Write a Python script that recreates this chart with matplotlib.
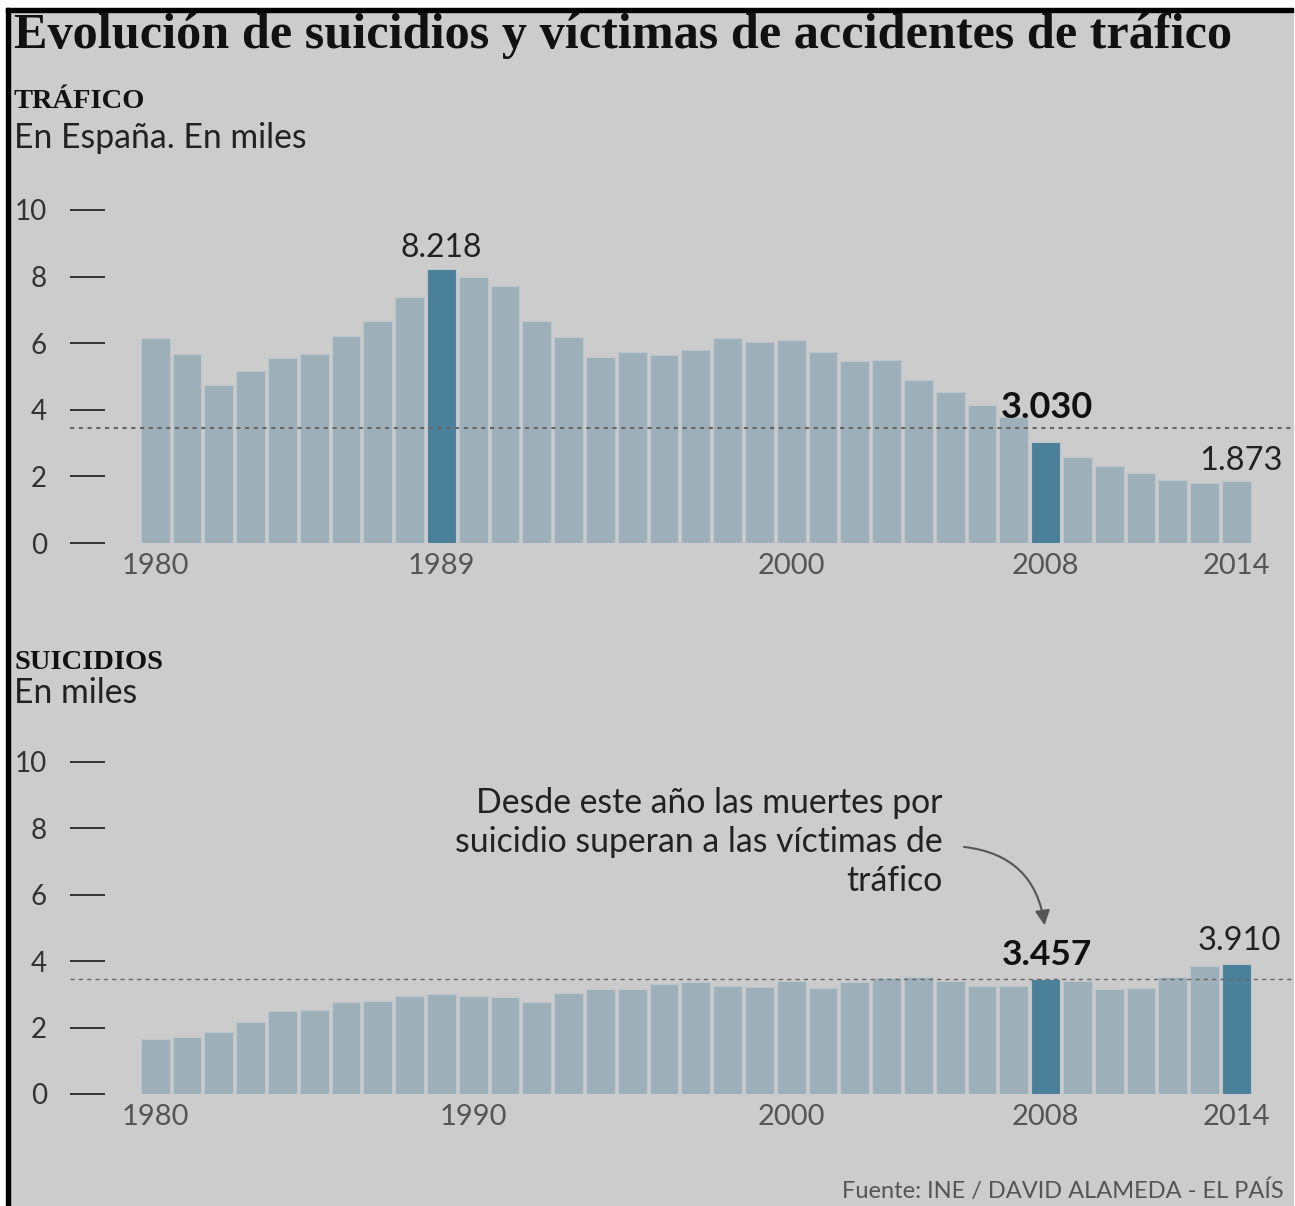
import matplotlib.pyplot as plt
from matplotlib.patches import Rectangle, FancyArrowPatch

# --- data (miles de personas)
years = list(range(1980, 2015))
trafico = [6.15, 5.68, 4.74, 5.17, 5.56, 5.67, 6.21, 6.67, 7.39, 8.218,
           7.98, 7.72, 6.67, 6.18, 5.59, 5.75, 5.64, 5.80, 6.15, 6.03,
           6.10, 5.73, 5.47, 5.50, 4.89, 4.53, 4.14, 3.79, 3.030, 2.58,
           2.32, 2.10, 1.90, 1.80, 1.873]
suicidios = [1.66, 1.73, 1.86, 2.18, 2.50, 2.52, 2.76, 2.81, 2.96, 3.00,
             2.94, 2.91, 2.78, 3.04, 3.17, 3.16, 3.32, 3.37, 3.26, 3.22,
             3.41, 3.19, 3.36, 3.49, 3.52, 3.39, 3.25, 3.26, 3.457, 3.41,
             3.17, 3.18, 3.53, 3.87, 3.910]
trafico_dest = [1989, 2008]
suicidios_dest = [2008, 2014]
trafico_xticks = [1980, 1989, 2000, 2008, 2014]
suicidios_xticks = [1980, 1990, 2000, 2008, 2014]
y_ticks = [0, 2, 4, 6, 8, 10]
linea_ref = 3.457

W, H = 1295, 1206
BG = '#cccccc'
CLARO = '#9db0ba'
OSCURO = '#4a8099'
SANS = ['Lato', 'DejaVu Sans']
SERIF = ['Liberation Serif', 'DejaVu Serif']

fig = plt.figure(figsize=(W / 100, H / 100), dpi=100)
fig.patch.set_facecolor('white')

def fx(px):
    return px / W

def fy(py):
    return 1 - py / H

# fondo gris y marco negro
fig.patches.append(Rectangle((fx(10), 0), fx(1293) - fx(10), fy(12),
                             transform=fig.transFigure, color=BG, zorder=-10))
fig.patches.append(Rectangle((fx(6), 0), fx(4), fy(8),
                             transform=fig.transFigure, color='black', zorder=-5))
fig.patches.append(Rectangle((fx(6), fy(12)), fx(1293) - fx(6), 4 / H,
                             transform=fig.transFigure, color='black', zorder=-5))

# textos de cabecera
fig.text(fx(14), fy(48), 'Evolución de suicidios y víctimas de accidentes de tráfico',
         family=SERIF, weight='bold', fontsize=36.2, va='baseline', color='#111')
fig.text(fx(14), fy(108), 'TRÁFICO', family=SERIF, weight='bold', fontsize=20.5,
         va='baseline', color='#111')
fig.text(fx(14), fy(148), 'En España. En miles', family=SANS, fontsize=24.3,
         va='baseline', color='#222')
fig.text(fx(14), fy(669), 'SUICIDIOS', family=SERIF, weight='bold', fontsize=20.5,
         va='baseline', color='#111')
fig.text(fx(14), fy(703), 'En miles', family=SANS, fontsize=24.3,
         va='baseline', color='#222')
fig.text(fx(842), fy(1198), 'Fuente: INE / DAVID ALAMEDA - EL PAÍS', family=SANS,
         fontsize=17, va='baseline', color='#555')

px_year = 31.8
x0_data = 1980 - (155.2 - 70) / px_year
x1_data = 1980 + (W - 155.2) / px_year


def panel(y0_px, px_unit, valores, destacados, xticks):
    top_px = y0_px - 10.5 * px_unit
    ax = fig.add_axes([fx(70), fy(y0_px), fx(W) - fx(70), (y0_px - top_px) / H])
    ax.set_facecolor('none')
    colores = [OSCURO if y in destacados else CLARO for y in years]
    ax.bar(years, valores, width=0.9, color=colores, edgecolor='#bcc6cb',
           linewidth=0.8, zorder=2)
    ax.set_xlim(x0_data, x1_data)
    ax.set_ylim(0, 10.5)
    for s in ax.spines.values():
        s.set_visible(False)
    ax.set_yticks(y_ticks)
    ax.set_yticklabels([str(t) for t in y_ticks], family=SANS, fontsize=20, color='#333')
    ax.tick_params(axis='y', direction='in', length=25, width=1.4, color='#333', pad=16.5)
    ax.set_xticks(xticks)
    ax.set_xticklabels([str(t) for t in xticks], family=SANS, fontsize=21, color='#555')
    ax.tick_params(axis='x', length=0, pad=7)
    return ax


ax1 = panel(543, 33.3, trafico, trafico_dest, trafico_xticks)
ax1.axhline(linea_ref, color='#666', linestyle=(0, (2, 2.2)), linewidth=1.5, zorder=3)
ax1.text(1989, 8.59, '8.218', ha='center', va='baseline', family=SANS, fontsize=23, color='#222')
ax1.text(2008.05, 3.75, '3.030', ha='center', va='baseline', family=SANS, fontsize=26,
         weight='bold', color='#111')
ax1.text(2014.15, 2.19, '1.873', ha='center', va='baseline', family=SANS, fontsize=23.5, color='#222')

ax2 = panel(1094, 33.2, suicidios, suicidios_dest, suicidios_xticks)
ax2.axhline(linea_ref, color='#666', linestyle=(0, (3, 3)), linewidth=1.0, zorder=3)
ax2.text(2008.05, 3.89, '3.457', ha='center', va='baseline', family=SANS, fontsize=25.5,
         weight='bold', color='#111')
ax2.text(2014.1, 4.34, '3.910', ha='center', va='baseline', family=SANS, fontsize=23.5, color='#222')

nota = ['Desde este año las muertes por', 'suicidio superan a las víctimas de', 'tráfico']
for linea, yb in zip(nota, [8.46, 7.29, 6.12]):
    ax2.text(2004.77, yb, linea, ha='right', va='baseline', family=SANS, fontsize=24.3, color='#222')

flecha = FancyArrowPatch((2005.35, 7.45), (2007.98, 5.0),
                         connectionstyle='arc3,rad=-0.4', arrowstyle='-|>',
                         mutation_scale=22, linewidth=1.5, color='#555', zorder=4)
ax2.add_patch(flecha)

fig.savefig('out.png', dpi=100, facecolor=fig.get_facecolor())
